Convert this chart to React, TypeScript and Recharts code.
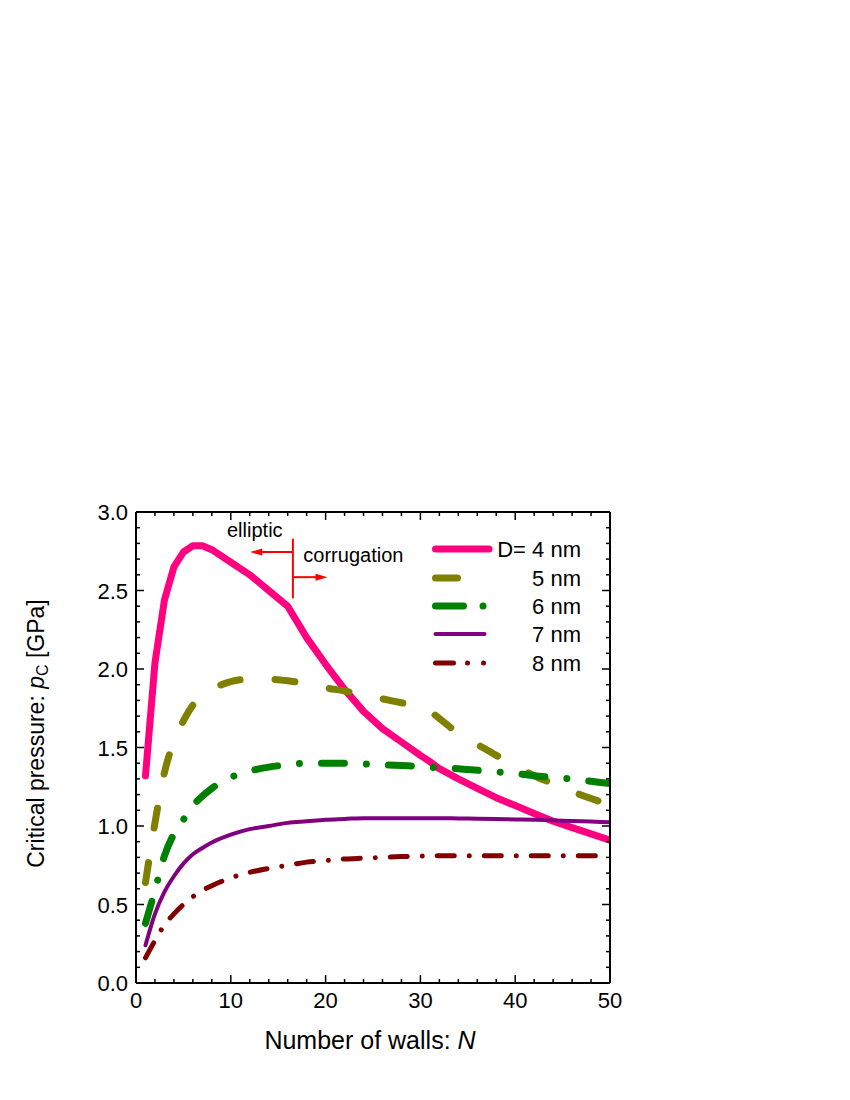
import React from "react";
import {
  Legend,
  Line,
  LineChart,
  ReferenceDot,
  ReferenceLine,
  XAxis,
  YAxis,
} from "recharts";

// number of walls N at which the curves were read
const N = [1, 2, 3, 4, 5, 6, 7, 8, 10, 12, 14, 16, 18, 20, 22, 24, 26, 28, 30, 31, 32, 34, 36, 38, 40, 42, 44, 46, 48, 50];

// critical pressure p_C [GPa] for each tube diameter
const D4 = [1.32, 2.04, 2.44, 2.65, 2.745, 2.785, 2.785, 2.76, 2.68, 2.6, 2.5, 2.4, 2.2, 2.03, 1.87, 1.73, 1.62, 1.535, 1.45, 1.41, 1.365, 1.3, 1.24, 1.18, 1.13, 1.08, 1.03, 0.99, 0.95, 0.91];
const D5 = [0.64, 1.02, 1.34, 1.54, 1.67, 1.77, 1.83, 1.87, 1.92, 1.935, 1.935, 1.925, 1.905, 1.88, 1.86, 1.835, 1.81, 1.785, 1.76, 1.73, 1.685, 1.59, 1.52, 1.45, 1.385, 1.32, 1.27, 1.22, 1.175, 1.135];
const D6 = [0.38, 0.59, 0.81, 0.95, 1.04, 1.13, 1.19, 1.24, 1.31, 1.35, 1.375, 1.39, 1.4, 1.4, 1.4, 1.395, 1.39, 1.385, 1.38, 1.375, 1.37, 1.365, 1.355, 1.345, 1.335, 1.32, 1.31, 1.3, 1.285, 1.27];
const D7 = [0.24, 0.44, 0.58, 0.68, 0.76, 0.82, 0.86, 0.895, 0.945, 0.98, 1.0, 1.02, 1.03, 1.04, 1.045, 1.05, 1.05, 1.05, 1.05, 1.05, 1.05, 1.048, 1.046, 1.044, 1.042, 1.04, 1.036, 1.032, 1.028, 1.024];
const D8 = [0.16, 0.27, 0.37, 0.44, 0.5, 0.55, 0.59, 0.62, 0.67, 0.705, 0.73, 0.75, 0.77, 0.78, 0.79, 0.795, 0.8, 0.805, 0.808, 0.81, 0.81, 0.81, 0.81, 0.81, 0.81, 0.81, 0.81, 0.81, 0.81, 0.81];

const X_TICKS = [0, 2, 4, 6, 8, 10, 12, 14, 16, 18, 20, 22, 24, 26, 28, 30, 32, 34, 36, 38, 40, 42, 44, 46, 48, 50];
const Y_TICKS = [0, 0.1, 0.2, 0.3, 0.4, 0.5, 0.6, 0.7, 0.8, 0.9, 1.0, 1.1, 1.2, 1.3, 1.4, 1.5, 1.6, 1.7, 1.8, 1.9, 2.0, 2.1, 2.2, 2.3, 2.4, 2.5, 2.6, 2.7, 2.8, 2.9, 3.0];

const FONT = '"Liberation Sans", Arial, Helvetica, sans-serif';

const SERIES = [
  { key: "d4", label: "D= 4 nm", values: D4, color: "#ff0080", width: 7, dash: undefined, type: "linear", legendDash: undefined },
  { key: "d5", label: "5 nm", values: D5, color: "#808000", width: 7, dash: "20 35", type: "monotone", legendDash: "22 100" },
  { key: "d6", label: "6 nm", values: D6, color: "#008000", width: 7, dash: "23 22 0.01 22", type: "monotone", legendDash: "28 19.5 0.01 100" },
  { key: "d7", label: "7 nm", values: D7, color: "#800080", width: 4, dash: undefined, type: "monotone", legendDash: undefined },
  { key: "d8", label: "8 nm", values: D8, color: "#800000", width: 5, dash: "17 15 0.01 15", type: "monotone", legendDash: "18 14 0.01 16 0.01 100" },
];

const data = N.map((n, i) => {
  const row: Record<string, number> = { n };
  SERIES.forEach((s) => (row[s.key] = s.values[i]));
  return row;
});

const isMajorX = (v: number) => v % 10 === 0;
const isMajorY = (v: number) => Math.round(v * 10) % 5 === 0;

const BottomTick = ({ x, y, payload }: any) => {
  const v = payload.value;
  const major = isMajorX(v);
  return (
    <g>
      <line x1={x} x2={x} y1={y} y2={y - (major ? 8 : 4)} stroke="#000" strokeWidth={1.5} />
      {major && (
        <text x={x} y={y + 25} textAnchor="middle" fontSize={22} fontFamily={FONT} fill="#000">
          {v}
        </text>
      )}
    </g>
  );
};

const TopTick = ({ x, y, payload }: any) => {
  const major = isMajorX(payload.value);
  return <line x1={x} x2={x} y1={y} y2={y + (major ? 8 : 4)} stroke="#000" strokeWidth={1.5} />;
};

const LeftTick = ({ x, y, payload }: any) => {
  const v = payload.value;
  const major = isMajorY(v);
  return (
    <g>
      <line x1={x} x2={x + (major ? 8 : 4)} y1={y} y2={y} stroke="#000" strokeWidth={1.5} />
      {major && (
        <text x={x - 8} y={y + 8} textAnchor="end" fontSize={22} fontFamily={FONT} fill="#000">
          {v.toFixed(1)}
        </text>
      )}
    </g>
  );
};

const RightTick = ({ x, y, payload }: any) => {
  const major = isMajorY(payload.value);
  return <line x1={x} x2={x - (major ? 8 : 4)} y1={y} y2={y} stroke="#000" strokeWidth={1.5} />;
};

const YTitle = ({ viewBox }: any) => {
  const cx = viewBox.x + 20;
  const cy = viewBox.y + viewBox.height / 2 - 14;
  return (
    <text
      x={cx}
      y={cy}
      transform={`rotate(-90 ${cx} ${cy})`}
      textAnchor="middle"
      dominantBaseline="central"
      fontSize={23}
      fontFamily={FONT}
      fill="#000"
    >
      Critical pressure: <tspan fontStyle="italic">p</tspan>
      <tspan fontSize={16} dy={6}>C</tspan>
      <tspan dy={-6}> [GPa]</tspan>
    </text>
  );
};

const XTitle = ({ viewBox }: any) => (
  <text
    x={viewBox.x + viewBox.width / 2 - 3}
    y={viewBox.y + 66}
    textAnchor="middle"
    fontSize={25}
    fontFamily={FONT}
    fill="#000"
  >
    Number of walls: <tspan fontStyle="italic">N</tspan>
  </text>
);

const Arrow = ({ x1, y1, x2, y2 }: any) => {
  const dir = Math.sign(x2 - x1);
  return (
    <g>
      <line x1={x1} y1={y1} x2={x2 - dir * 8} y2={y2} stroke="#ff0000" strokeWidth={2} />
      <polygon points={`${x2},${y2} ${x2 - dir * 12},${y2 - 3.5} ${x2 - dir * 12},${y2 + 3.5}`} fill="#ff0000" />
    </g>
  );
};

const note = (txt: string) => (p: any) => (
  <text x={p.cx} y={p.cy} fontSize={20} fontFamily={FONT} fill="#000">
    {txt}
  </text>
);

const LegendBox = () => {
  const rowY = [16, 45, 73, 101, 130];
  return (
    <svg width={170} height={150} style={{ overflow: "visible" }}>
      {SERIES.map((s, i) => (
        <g key={s.key}>
          <line
            x1={7.5}
            x2={s.key === "d4" ? 61 : 56.5}
            y1={rowY[i]}
            y2={rowY[i]}
            stroke={s.color}
            strokeWidth={s.width}
            strokeDasharray={s.legendDash}
            strokeLinecap="round"
          />
          <text x={153} y={rowY[i] + 8} textAnchor="end" fontSize={22} fontFamily={FONT} fill="#000">
            {s.label}
          </text>
        </g>
      ))}
    </svg>
  );
};

export default function App() {
  return (
    <LineChart
      width={842}
      height={1080}
      data={data}
      margin={{ top: 503, right: 239, bottom: 25, left: 8 }}
      style={{ fontFamily: FONT }}
    >
      <XAxis
        dataKey="n"
        type="number"
        domain={[0, 50]}
        allowDataOverflow
        ticks={X_TICKS}
        interval={0}
        height={80}
        tickSize={0}
        tickMargin={0}
        tickLine={false}
        tick={BottomTick}
        axisLine={{ stroke: "#000", strokeWidth: 2 }}
        label={{ content: XTitle }}
      />
      <XAxis
        xAxisId="top"
        dataKey="n"
        orientation="top"
        type="number"
        domain={[0, 50]}
        allowDataOverflow
        ticks={X_TICKS}
        interval={0}
        height={1}
        tickSize={0}
        tickMargin={0}
        tickLine={false}
        tick={TopTick}
        axisLine={{ stroke: "#000", strokeWidth: 2 }}
      />
      <YAxis
        type="number"
        domain={[0, 3]}
        allowDataOverflow
        ticks={Y_TICKS}
        interval={0}
        width={120}
        tickSize={0}
        tickMargin={0}
        tickLine={false}
        tick={LeftTick}
        axisLine={{ stroke: "#000", strokeWidth: 2 }}
        label={{ content: YTitle }}
      />
      <YAxis
        yAxisId="right"
        orientation="right"
        type="number"
        domain={[0, 3]}
        allowDataOverflow
        ticks={Y_TICKS}
        interval={0}
        width={1}
        tickSize={0}
        tickMargin={0}
        tickLine={false}
        tick={RightTick}
        axisLine={{ stroke: "#000", strokeWidth: 2 }}
      />
      {SERIES.map((s) => (
        <Line
          key={s.key}
          dataKey={s.key}
          type={s.type as any}
          stroke={s.color}
          strokeWidth={s.width}
          strokeDasharray={s.dash}
          strokeLinecap="round"
          strokeLinejoin="round"
          dot={false}
          activeDot={false}
          isAnimationActive={false}
        />
      ))}
      <ReferenceLine
        segment={[
          { x: 16.55, y: 2.83 },
          { x: 16.55, y: 2.45 },
        ]}
        stroke="#ff0000"
        strokeWidth={2}
      />
      <ReferenceLine
        segment={[
          { x: 16.55, y: 2.745 },
          { x: 12.05, y: 2.745 },
        ]}
        shape={Arrow}
      />
      <ReferenceLine
        segment={[
          { x: 16.55, y: 2.585 },
          { x: 20.2, y: 2.585 },
        ]}
        shape={Arrow}
      />
      <ReferenceDot x={9.6} y={2.84} r={0} shape={note("elliptic")} />
      <ReferenceDot x={17.65} y={2.68} r={0} shape={note("corrugation")} />
      <Legend
        layout="vertical"
        align="center"
        verticalAlign="middle"
        wrapperStyle={{ left: 420, top: 525, width: 170, height: 150 }}
        content={LegendBox}
      />
    </LineChart>
  );
}
